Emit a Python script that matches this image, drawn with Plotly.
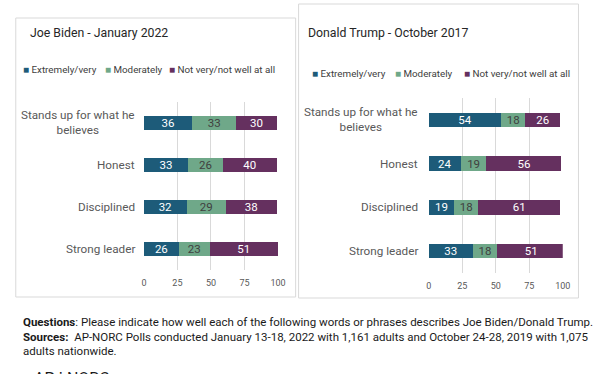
import plotly.graph_objects as go

categories = ["Stands up for what he believes", "Honest", "Disciplined", "Strong leader"]
cat_labels = ["Stands up for what he<br>believes", "Honest", "Disciplined", "Strong leader"]
series_names = ["Extremely/very", "Moderately", "Not very/not well at all"]
biden_extreme = [36, 33, 32, 26]
biden_moderate = [33, 26, 29, 23]
biden_not = [30, 40, 38, 51]
trump_extreme = [54, 24, 19, 33]
trump_moderate = [18, 19, 18, 18]
trump_not = [26, 56, 61, 51]
tick_vals = [0, 25, 50, 75, 100]
titles = ["Joe Biden - January 2022", "Donald Trump - October 2017"]

colors = ["#1d5b79", "#6fa889", "#65305f"]
text_colors = ["#ffffff", "#404040", "#ffffff"]

W, H = 612, 374
def px(x):
    return x / W
def py(y):
    return 1 - y / H

FONT = "Roboto, Arial, sans-serif"
fig = go.Figure()

panels = [
    dict(vals=[biden_extreme, biden_moderate, biden_not], xa="x", ya="y"),
    dict(vals=[trump_extreme, trump_moderate, trump_not], xa="x2", ya="y2"),
]
for p in panels:
    for i, name in enumerate(series_names):
        fig.add_trace(go.Bar(
            y=categories, x=p["vals"][i], orientation="h", name=name,
            marker=dict(color=colors[i], line=dict(width=0)),
            text=p["vals"][i], textposition="inside", insidetextanchor="middle",
            textangle=0, constraintext="none",
            textfont=dict(color=text_colors[i], size=11.5, family=FONT),
            xaxis=p["xa"], yaxis=p["ya"], showlegend=False, hoverinfo="skip",
        ))

axis_common = dict(range=[0, 100], tickvals=tick_vals, showgrid=True, gridcolor="#d9d9d9",
                   gridwidth=1, zeroline=False, showline=False, ticks="", ticklabelstandoff=6,
                   tickfont=dict(size=9, color="#595959", family=FONT), fixedrange=True)
yaxis_common = dict(categoryorder="array", categoryarray=categories[::-1], showticklabels=False,
                    showgrid=False, zeroline=False, showline=False, ticks="", fixedrange=True)

fig.update_layout(
    width=W, height=H, margin=dict(l=0, r=0, t=0, b=0), autosize=False,
    paper_bgcolor="white", plot_bgcolor="white",
    barmode="stack", bargap=0.67,
    font=dict(family=FONT, color="#595959"),
    xaxis=dict(domain=[px(143.5), px(280)], anchor="y", **axis_common),
    yaxis=dict(domain=[py(270), py(102)], anchor="x", **yaxis_common),
    xaxis2=dict(domain=[px(433.5), px(570)], anchor="y2", **axis_common),
    yaxis2=dict(domain=[py(273), py(98)], anchor="x2", **yaxis_common),
)

# panel boxes
fig.add_shape(type="rect", xref="paper", yref="paper", x0=px(13), x1=px(298), y0=py(297), y1=py(18),
              line=dict(color="#d9d9d9", width=1), layer="below")
fig.add_shape(type="rect", xref="paper", yref="paper", x0=px(301), x1=px(586), y0=py(298), y1=py(4),
              line=dict(color="#d9d9d9", width=1), layer="below")

# titles
fig.add_annotation(text=titles[0], xref="paper", yref="paper", x=px(25), y=py(33), xanchor="left",
                   yanchor="middle", showarrow=False, font=dict(size=12.3, color="#262626", family=FONT))
fig.add_annotation(text=titles[1], xref="paper", yref="paper", x=px(309), y=py(33), xanchor="left",
                   yanchor="middle", showarrow=False, font=dict(size=12.3, color="#262626", family=FONT))

# legends
leg_pos = [[(18, 70), (102, 70), (167, 70)], [(313, 73), (397, 73), (467, 73)]]
for pos in leg_pos:
    for i, name in enumerate(series_names):
        fig.add_annotation(text=f"<span style='color:{colors[i]};font-size:10px'>■</span> {name}",
                           xref="paper", yref="paper",
                           x=px(pos[i][0]), y=py(pos[i][1]), xanchor="left", yanchor="middle",
                           showarrow=False, font=dict(size=9.8, color="#404040", family=FONT))

# category labels
for ya, xr in [("y", 136), ("y2", 425)]:
    for c, lab in zip(categories, cat_labels):
        fig.add_annotation(text=lab, xref="paper", yref=ya, x=px(xr), y=c, xanchor="right",
                           yanchor="middle", align="center", showarrow=False,
                           font=dict(size=11.7, color="#595959", family=FONT))

# footer
footer = [
    "<b>Questions</b>: Please indicate how well each of the following words or phrases describes Joe Biden/Donald Trump.",
    "<b>Sources:</b>  AP-NORC Polls conducted January 13-18, 2022 with 1,161 adults and October 24-28, 2019 with 1,075",
    "adults nationwide.",
]
for k, line in enumerate(footer):
    fig.add_annotation(text=line, xref="paper", yref="paper", x=px(18), y=py(322 + 14.5 * k),
                       xanchor="left", yanchor="middle", showarrow=False,
                       font=dict(size=11.5, color="#1a1a1a", family=FONT))

fig.add_annotation(text="AP ⁞ NORC", xref="paper", yref="paper", x=px(30), y=py(367),
                   xanchor="left", yanchor="top", showarrow=False,
                   font=dict(size=16, color="#1a1a1a", family=FONT))

fig.write_html("out.html", config={"responsive": False, "displayModeBar": False},
               post_script="document.body.style.margin='0';document.body.style.padding='0';"
                           "document.documentElement.style.overflow='hidden';")
